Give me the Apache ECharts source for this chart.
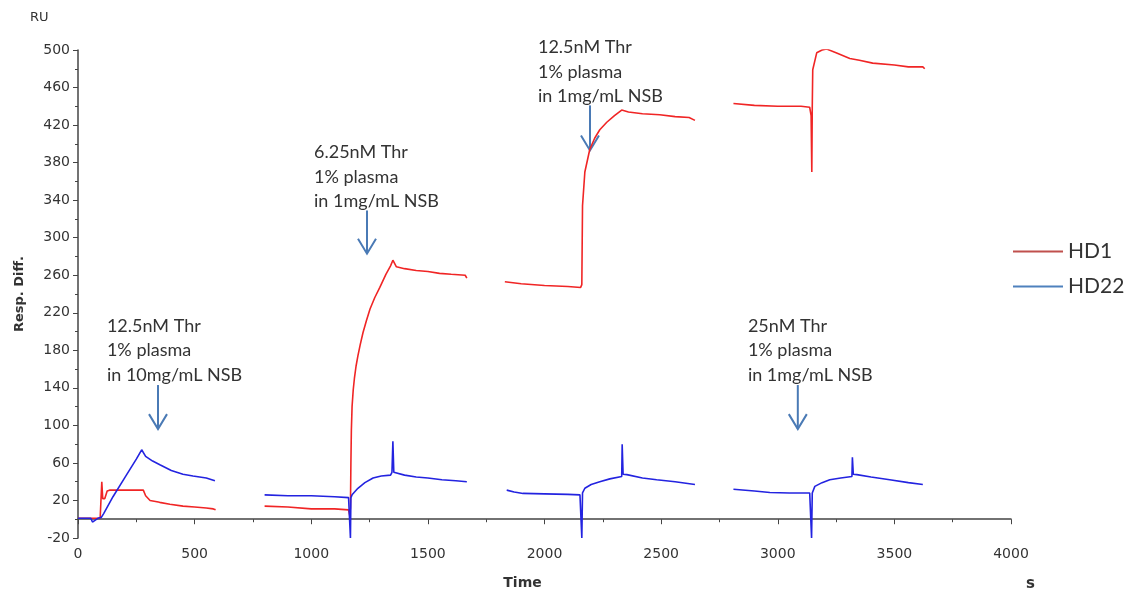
<!DOCTYPE html>
<html>
<head>
<meta charset="utf-8">
<script src="https://cdn.jsdelivr.net/npm/echarts@6/dist/echarts.min.js"></script>
<style>
  html, body { margin: 0; padding: 0; background: #fff; }
  #chart { width: 1124px; height: 595px; }
</style>
</head>
<body>
<div id="chart"></div>
<script>
// time (s) / response (RU) readings, one array per injection cycle
const hd1Cycle1 = [[0,1],[60,1],[95,1],[100,2],[102,40],[106,22],[115,22],[125,30],[135,31],[280,31],[290,25],[309,20],[350,18],[394,16],[450,14],[500,13],[550,12],[580,11],[590,10]];
const hd1Cycle2 = [[800,14],[900,13],[1000,11],[1100,11],[1160,10],[1165,4],[1168,12],[1170,60],[1172,95],[1175,120],[1180,138],[1185,150],[1192,163],[1200,174],[1210,186],[1222,199],[1237,212],[1252,224],[1272,236],[1294,247],[1320,261],[1340,270],[1350,276],[1365,269],[1400,267],[1450,265],[1500,264],[1550,262],[1600,261],[1660,260],[1667,257]];
const hd1Cycle3 = [[1830,253],[1900,251],[2000,249],[2100,248],[2155,247],[2160,250],[2163,334],[2173,370],[2194,394],[2215,406],[2237,415],[2267,423],[2300,430],[2331,436],[2360,434],[2420,432],[2494,431],[2560,429],[2620,428],[2645,425]];
const hd1Cycle4 = [[2810,443],[2900,441],[3000,440],[3100,440],[3137,439],[3143,430],[3146,370],[3148,440],[3150,479],[3167,497],[3190,500],[3210,501],[3250,497],[3309,491],[3350,489],[3407,486],[3500,484],[3560,482],[3622,482],[3630,480]];

const hd22Cycle1 = [[0,1],[55,1],[62,-3],[70,-1],[85,1],[100,2],[110,6],[150,24],[200,44],[250,64],[273,74],[290,67],[320,62],[351,58],[400,52],[450,48],[493,46],[550,44],[587,41]];
const hd22Cycle2 = [[800,26],[900,25],[1000,25],[1100,24],[1160,23],[1165,22],[1168,-20],[1170,23],[1175,26],[1200,33],[1230,39],[1265,44],[1300,46],[1340,47],[1346,50],[1350,83],[1354,50],[1360,48],[1400,47],[1450,45],[1500,44],[1560,42],[1620,41],[1667,40]];
const hd22Cycle3 = [[1838,31],[1870,29],[1908,27.5],[2000,27],[2100,26.5],[2152,26],[2158,24],[2160,-20],[2163,28],[2173,33],[2200,37],[2237,40],[2280,43],[2331,45.5],[2333,80],[2337,48],[2353,47.5],[2420,44],[2481,42],[2560,40],[2645,37]];
const hd22Cycle4 = [[2810,32],[2900,30],[2966,28.5],[3050,28],[3137,28],[3143,26],[3145,-20],[3148,28],[3159,35],[3190,39],[3223,42],[3270,44],[3318,45.5],[3320,66],[3324,48],[3339,47.5],[3400,45],[3480,42],[3560,39],[3622,37]];

// injection notes: text anchor [x, y] and arrow [x, yTop, yTip]
const noteLines = [
  ['12.5nM Thr', '1% plasma', 'in 10mg/mL NSB'],
  ['6.25nM Thr', '1% plasma', 'in 1mg/mL NSB'],
  ['12.5nM Thr', '1% plasma', 'in 1mg/mL NSB'],
  ['25nM Thr', '1% plasma', 'in 1mg/mL NSB']
];
const noteAnchors = [[124,219],[1012,404],[1972,516],[2872,219]];
const noteArrows = [[343,143,96],[1239,329,283],[2195,441,393],[3086,143,96]];

// join cycles with a null point so the line breaks between them
function joinCycles(cycles) {
  const out = [];
  cycles.forEach((c, i) => {
    if (i > 0) out.push([c[0][0] - 1, null]);
    c.forEach(p => out.push(p));
  });
  return out;
}

const chart = echarts.init(document.getElementById('chart'));
const tickFont = { fontFamily: 'DejaVu Sans', fontSize: 14, color: '#333', margin: 9, formatter: v => String(v) };

chart.setOption({
  animation: false,
  grid: { left: 78, right: 113, top: 50, bottom: 53 },
  legend: {
    orient: 'vertical',
    left: 1008,
    top: 236,
    itemWidth: 50,
    itemHeight: 2,
    itemGap: 14,
    icon: 'rect',
    textStyle: { fontFamily: 'Lato', fontSize: 21, color: '#333' },
    data: [
      { name: 'HD1', itemStyle: { color: '#c0504d' } },
      { name: 'HD22', itemStyle: { color: '#4f81bd' } }
    ]
  },
  xAxis: {
    type: 'value',
    min: 0, max: 4000, interval: 500,
    name: 'Time',
    nameLocation: 'middle',
    nameGap: 38,
    nameTextStyle: { fontFamily: 'DejaVu Sans', fontSize: 14, fontWeight: 'bold', color: '#333', padding: [0, 44, 0, 0] },
    axisLine: { lineStyle: { color: '#444', width: 1.5 } },
    axisTick: { length: 5, lineStyle: { color: '#444' } },
    minorTick: { show: true, splitNumber: 2, length: 3, lineStyle: { color: '#444' } },
    axisLabel: tickFont,
    splitLine: { show: false }
  },
  yAxis: {
    type: 'value',
    min: -20, max: 500, interval: 40,
    name: 'Resp. Diff.',
    nameLocation: 'middle',
    nameGap: 52,
    nameTextStyle: { fontFamily: 'DejaVu Sans', fontSize: 13, fontWeight: 'bold', color: '#333' },
    axisLine: { show: true, lineStyle: { color: '#444', width: 1.5 } },
    axisTick: { show: true, length: 5, lineStyle: { color: '#444' } },
    minorTick: { show: true, splitNumber: 2, length: 3, lineStyle: { color: '#444' } },
    axisLabel: Object.assign({}, tickFont, { margin: 8 }),
    splitLine: { show: false }
  },
  series: [
    {
      name: 'HD1', type: 'line', showSymbol: false, clip: true,
      data: joinCycles([hd1Cycle1, hd1Cycle2, hd1Cycle3, hd1Cycle4]),
      lineStyle: { color: '#f02525', width: 1.6 }, itemStyle: { color: '#f02525' }
    },
    {
      name: 'HD22', type: 'line', showSymbol: false, clip: true,
      data: joinCycles([hd22Cycle1, hd22Cycle2, hd22Cycle3, hd22Cycle4]),
      lineStyle: { color: '#2323e0', width: 1.6 }, itemStyle: { color: '#2323e0' }
    }
  ]
});

// notes, arrows and the two unit labels, placed from data coordinates
const px = p => chart.convertToPixel({ xAxisIndex: 0, yAxisIndex: 0 }, p);
const graphics = [];
noteLines.forEach((lines, i) => {
  const a = px(noteAnchors[i]);
  graphics.push({
    type: 'text', left: a[0], top: a[1],
    style: { text: lines.join('\n'), fontFamily: 'Lato', fontSize: 18, lineHeight: 24.5, fill: '#333' }
  });
  const [ax, y0, y1] = noteArrows[i];
  const top = px([ax, y0]), tip = px([ax, y1]);
  graphics.push({
    type: 'polyline',
    shape: { points: [top, tip] },
    style: { stroke: '#4a7ab5', lineWidth: 2 }
  });
  graphics.push({
    type: 'polyline',
    shape: { points: [[tip[0] - 9, tip[1] - 15], tip, [tip[0] + 9, tip[1] - 15]] },
    style: { stroke: '#4a7ab5', lineWidth: 2, fill: null }
  });
});
graphics.push({ type: 'text', left: 30, top: 11, style: { text: 'RU', fontFamily: 'DejaVu Sans', fontSize: 13, fill: '#333' } });
graphics.push({ type: 'text', left: 1026, top: 577, style: { text: 's', fontFamily: 'DejaVu Sans', fontSize: 15, fontWeight: 'bold', fill: '#333' } });
chart.setOption({ graphic: graphics });
</script>
</body>
</html>
